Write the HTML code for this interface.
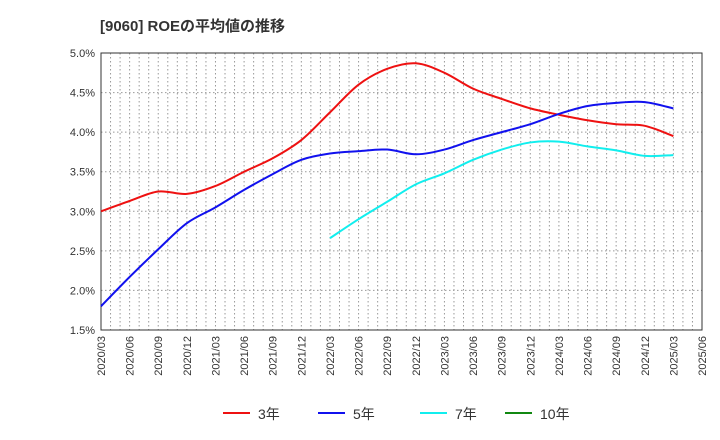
<!DOCTYPE html>
<html><head><meta charset="utf-8"><style>
body{margin:0;background:#fff;}
svg{display:block;font-family:"Liberation Sans","Noto Sans CJK JP",sans-serif;}
</style></head><body>
<svg id="chart" width="720" height="440"></svg>
<script>
const xLabels=["2020/03","2020/06","2020/09","2020/12","2021/03","2021/06","2021/09","2021/12","2022/03","2022/06","2022/09","2022/12","2023/03","2023/06","2023/09","2023/12","2024/03","2024/06","2024/09","2024/12","2025/03","2025/06"];
const yTicks=[1.5,2.0,2.5,3.0,3.5,4.0,4.5,5.0];
const s3=[3.0,3.13,3.25,3.22,3.32,3.5,3.67,3.9,4.25,4.6,4.8,4.87,4.75,4.55,4.42,4.3,4.22,4.15,4.1,4.08,3.95];
const s5=[1.8,2.17,2.52,2.85,3.05,3.27,3.47,3.65,3.73,3.76,3.78,3.72,3.78,3.9,4.0,4.1,4.23,4.33,4.37,4.38,4.3];
const s7=[null,null,null,null,null,null,null,null,2.66,2.9,3.12,3.34,3.48,3.65,3.78,3.87,3.88,3.82,3.77,3.7,3.71];
const s10=[];
const L=101,R=702,T=53,B=330;
const X=i=>L+(R-L)*i/(xLabels.length-1);
const Y=v=>B-(v-1.5)/3.5*(B-T);
const svg=document.getElementById('chart');
const NS='http://www.w3.org/2000/svg';
function mk(t,a,txt){const e=document.createElementNS(NS,t);for(const k in a)e.setAttribute(k,a[k]);if(txt!=null)e.textContent=txt;svg.appendChild(e);return e;}
let t=mk('text',{x:100,y:31,'font-size':15,'font-weight':'bold',fill:'#333'},'[9060]  ROEの平均値の推移');

// monthly vertical grid
for(let m=0;m<=63;m++){const x=L+(R-L)*m/63;const g=mk('line',{x1:x,x2:x,y1:T,y2:B,stroke:'#999','stroke-dasharray':'1.5,2.5','stroke-width':1});
}
yTicks.forEach(v=>{const g=mk('line',{x1:L,x2:R,y1:Y(v),y2:Y(v),stroke:'#999','stroke-dasharray':'1.5,2.5'});

const l=mk('text',{x:L-6,y:Y(v)+4,'font-size':11,'text-anchor':'end',fill:'#333'},v.toFixed(1)+'%');
});
xLabels.forEach((s,i)=>{const l=mk('text',{transform:`translate(${X(i)+4},${B+6}) rotate(-90)`,'font-size':11,'text-anchor':'end',fill:'#333'},s);
});
const fr=mk('rect',{x:L,y:T,width:R-L,height:B-T,fill:'none',stroke:'#333'});

function path(arr){const p=[];arr.forEach((v,i)=>{if(v!=null)p.push([X(i),Y(v)]);});
if(p.length<2)return '';let d='M'+p[0][0]+','+p[0][1];
for(let i=0;i<p.length-1;i++){const p0=p[i-1]||p[i],p1=p[i],p2=p[i+1],p3=p[i+2]||p2;
d+=` C${p1[0]+(p2[0]-p0[0])/6},${p1[1]+(p2[1]-p0[1])/6} ${p2[0]-(p3[0]-p1[0])/6},${p2[1]-(p3[1]-p1[1])/6} ${p2[0]},${p2[1]}`;}return d;}
[[s3,'#ee1111','series-3yr'],[s5,'#1111ee','series-5yr'],[s7,'#11eeee','series-7yr'],[s10,'#118811','series-10yr']].forEach(([a,c,n])=>{
const d=path(a);if(!d)return;const e=mk('path',{d:d,fill:'none',stroke:c,'stroke-width':2});
});
[['3年','#ee1111',223],['5年','#1111ee',318],['7年','#11eeee',420],['10年','#118811',505]].forEach(([s,c,x])=>{
const g=mk('line',{x1:x,x2:x+27,y1:413,y2:413,stroke:c,'stroke-width':2});

const l=mk('text',{x:x+35,y:419,'font-size':14,fill:'#333'},s);
});
</script>
</body></html>
